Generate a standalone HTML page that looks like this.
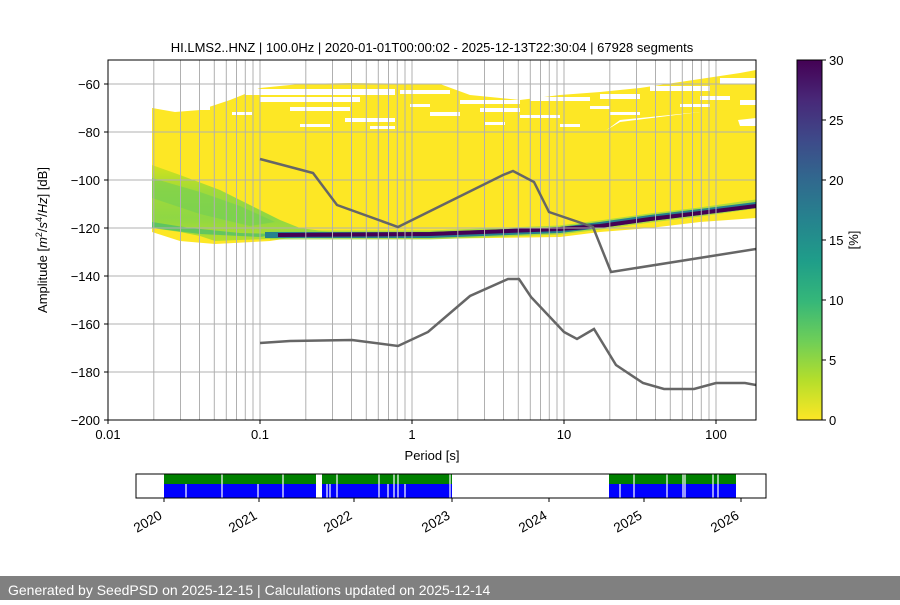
<!DOCTYPE html>
<html><head><meta charset="utf-8"><style>
body{margin:0;background:#fff;width:900px;height:600px;overflow:hidden;font-family:"Liberation Sans","DejaVu Sans",sans-serif}
</style></head><body>
<svg width="900" height="600" viewBox="0 0 900 600" xmlns="http://www.w3.org/2000/svg" font-family="Liberation Sans, DejaVu Sans, sans-serif">
<defs>
<linearGradient id="vir" x1="0" y1="0" x2="0" y2="1">
<stop offset="0" stop-color="#440154"/><stop offset="0.11" stop-color="#482878"/><stop offset="0.22" stop-color="#3e4989"/><stop offset="0.33" stop-color="#31688e"/><stop offset="0.44" stop-color="#26828e"/><stop offset="0.56" stop-color="#1f9e89"/><stop offset="0.67" stop-color="#35b779"/><stop offset="0.78" stop-color="#6ece58"/><stop offset="0.89" stop-color="#b5de2b"/><stop offset="1" stop-color="#fde725"/>
</linearGradient>
<linearGradient id="grn" x1="0" y1="0" x2="0" y2="1">
<stop offset="0" stop-color="#d2e21b"/><stop offset="0.35" stop-color="#a0da39"/><stop offset="0.7" stop-color="#8fd744"/><stop offset="1" stop-color="#b5de2b"/>
</linearGradient>
<clipPath id="ax"><rect x="108" y="60" width="648" height="360"/></clipPath>
</defs>
<text x="432" y="52" font-size="13" text-anchor="middle">HI.LMS2..HNZ | 100.0Hz | 2020-01-01T00:00:02 - 2025-12-13T22:30:04 | 67928 segments</text>
<g clip-path="url(#ax)">
<polygon fill="#fde725" points="152,108 175,112 200,110 230,100 260,88 300,84 350,83 440,84 470,95 520,100 560,95 600,92 640,88 680,82 720,76 740,73 756,70 756,120 700,112 620,120 600,135 152,135"/>
<g fill="#fff">
<rect x="245" y="89" width="150" height="6"/><rect x="260" y="97" width="100" height="5"/><rect x="290" y="107" width="60" height="4"/><rect x="180" y="106" width="30" height="4"/>
<rect x="232" y="112" width="20" height="3"/><rect x="400" y="90" width="50" height="4"/><rect x="460" y="100" width="60" height="4"/>
<rect x="480" y="108" width="40" height="4"/><rect x="530" y="97" width="60" height="4"/><rect x="600" y="94" width="40" height="5"/><rect x="650" y="86" width="60" height="5"/>
<rect x="700" y="96" width="30" height="4"/><rect x="720" y="78" width="36" height="6"/><rect x="345" y="118" width="50" height="4"/><rect x="430" y="112" width="30" height="4"/>
<rect x="520" y="115" width="40" height="3"/><rect x="610" y="112" width="30" height="3"/><rect x="680" y="104" width="30" height="3"/>
<rect x="370" y="126" width="25" height="3"/><rect x="485" y="122" width="20" height="3"/><rect x="560" y="124" width="20" height="3"/>
<rect x="660" y="124" width="25" height="3"/><rect x="740" y="100" width="16" height="5"/><rect x="300" y="124" width="30" height="3"/>
<rect x="410" y="104" width="20" height="3"/><rect x="590" y="106" width="20" height="3"/>
</g>
<polygon fill="#fde725" points="152,108 175,113 230,128 260,134 600,134 620,122 700,112 756,108 756,218 700,222 650,228 600,232 560,237 420,239 290,238 270,241 215,244 180,241 152,232"/>
<polygon fill="#fff" points="738,120 756,118 756,126 740,126"/>
<polygon fill="url(#grn)" points="152,165 180,175 220,190 250,205 280,220 300,228 330,232 300,238 270,239 240,240 215,241 200,236 180,232 152,228"/>
<polygon fill="#6ece58" opacity="0.55" points="152,178 200,192 240,206 275,222 250,226 200,214 152,198"/>
<polygon fill="#35b779" opacity="0.6" points="152,222 190,228 240,233 280,234 260,237 200,234 152,228"/>
<polyline fill="none" stroke="#8fd744" stroke-width="9" opacity="0.7" points="270,235 430,235 560,230 600,225 650,218 700,212 756,204"/>
<polyline fill="none" stroke="#26828e" stroke-width="6" points="265,235 430,235 560,230 600,225 650,218 700,212 756,205"/>
<polyline fill="none" stroke="#440154" stroke-width="4" points="278,235 430,234 560,229 600,226 650,219 700,213 756,206"/>
</g>
<g stroke="#b0b0b0" stroke-width="1">
<line x1="108" y1="84" x2="756" y2="84"/><line x1="108" y1="132" x2="756" y2="132"/><line x1="108" y1="180" x2="756" y2="180"/>
<line x1="108" y1="228" x2="756" y2="228"/><line x1="108" y1="276" x2="756" y2="276"/><line x1="108" y1="324" x2="756" y2="324"/><line x1="108" y1="372" x2="756" y2="372"/>
<path d="M153.8 60V420M180.5 60V420M199.5 60V420M214.3 60V420M226.3 60V420M236.5 60V420M245.3 60V420M253 60V420M260 60V420M305.8 60V420M332.5 60V420M351.5 60V420M366.3 60V420M378.3 60V420M388.5 60V420M397.3 60V420M405 60V420M412 60V420M457.8 60V420M484.5 60V420M503.5 60V420M518.3 60V420M530.3 60V420M540.5 60V420M549.3 60V420M557 60V420M564 60V420M609.8 60V420M636.5 60V420M655.5 60V420M670.3 60V420M682.3 60V420M692.5 60V420M701.3 60V420M709 60V420M716 60V420"/>
</g>
<g fill="none" stroke="#666" stroke-width="2.5" clip-path="url(#ax)">
<polyline points="260,159 313,173 337,205 398,227 503,175 513,171 534,182 549,212 593,227 611,272 756,249"/>
<polyline points="260,343 290,341 352,340 398,346 428,332 470,296 508,279 519,279 531,297 564,332 577,339 594,329 616,365 643,383 664,389 694,389 716,383 745,383 756,385"/>
</g>
<rect x="108" y="60" width="648" height="360" fill="none" stroke="#000" stroke-width="1"/>
<g stroke="#000">
<path d="M108 420v4M260 420v4M412 420v4M564 420v4M716 420v4"/>
<path d="M104 84h4M104 132h4M104 180h4M104 228h4M104 276h4M104 324h4M104 372h4M104 420h4"/>
</g>
<g font-size="13" text-anchor="middle">
<text x="108" y="439">0.01</text><text x="260" y="439">0.1</text><text x="412" y="439">1</text><text x="564" y="439">10</text><text x="716" y="439">100</text>
<text x="432" y="460">Period [s]</text>
</g>
<g font-size="13" text-anchor="end">
<text x="100" y="89">−60</text><text x="100" y="137">−80</text><text x="100" y="185">−100</text><text x="100" y="233">−120</text><text x="100" y="281">−140</text><text x="100" y="329">−160</text><text x="100" y="377">−180</text><text x="100" y="425">−200</text>
</g>
<text transform="translate(47,240) rotate(-90)" font-size="13" text-anchor="middle">Amplitude [<tspan font-style="italic">m</tspan><tspan font-size="9" dy="-5">2</tspan><tspan dy="5">/</tspan><tspan font-style="italic">s</tspan><tspan font-size="9" dy="-5">4</tspan><tspan dy="5">/</tspan><tspan font-style="italic">Hz</tspan>] [dB]</text>
<rect x="797" y="60" width="25" height="360" fill="url(#vir)" stroke="#000" stroke-width="1"/>
<g stroke="#000"><path d="M822 60h4M822 120h4M822 180h4M822 240h4M822 300h4M822 360h4M822 420h4"/></g>
<g font-size="13"><text x="829" y="65">30</text><text x="829" y="125">25</text><text x="829" y="185">20</text><text x="829" y="245">15</text><text x="829" y="305">10</text><text x="829" y="365">5</text><text x="829" y="425">0</text></g>
<text transform="translate(858,240) rotate(-90)" font-size="13" text-anchor="middle">[%]</text>
<g>
<rect x="164" y="474" width="152" height="10" fill="#008000"/><rect x="164" y="484" width="152" height="14" fill="#0000ff"/>
<rect x="322" y="474" width="130" height="10" fill="#008000"/><rect x="322" y="484" width="130" height="14" fill="#0000ff"/>
<rect x="609" y="474" width="127" height="10" fill="#008000"/><rect x="609" y="484" width="127" height="14" fill="#0000ff"/>
<g stroke="#fff" stroke-width="1.2">
<path d="M222 474v24M186 484v14M258 484v14M283 474v24M318 474v24M330 484v14M327 484v14M337 474v24M379 474v24M388 484v14M394 474v24M398 474v24M405 484v14M450 474v24M620 484v14M634 474v24M667 474v24M683 474v24M685 474v24M713 474v24M718 474v24"/>
</g>
<rect x="136" y="474" width="630" height="24" fill="none" stroke="#000"/>
<g stroke="#000"><path d="M164 498v4M259 498v4M354 498v4M452 498v4M549 498v4M644 498v4M741 498v4"/></g>
<g font-size="13.5" text-anchor="end">
<text transform="translate(163,518) rotate(-30)">2020</text><text transform="translate(258,518) rotate(-30)">2021</text><text transform="translate(353,518) rotate(-30)">2022</text><text transform="translate(451,518) rotate(-30)">2023</text><text transform="translate(548,518) rotate(-30)">2024</text><text transform="translate(643,518) rotate(-30)">2025</text><text transform="translate(740,518) rotate(-30)">2026</text>
</g>
</g>
<rect x="0" y="576" width="900" height="24" fill="#808080"/>
<text x="8" y="595" font-size="14" fill="#fff">Generated by SeedPSD on 2025-12-15 | Calculations updated on 2025-12-14</text>
</svg>
</body></html>
